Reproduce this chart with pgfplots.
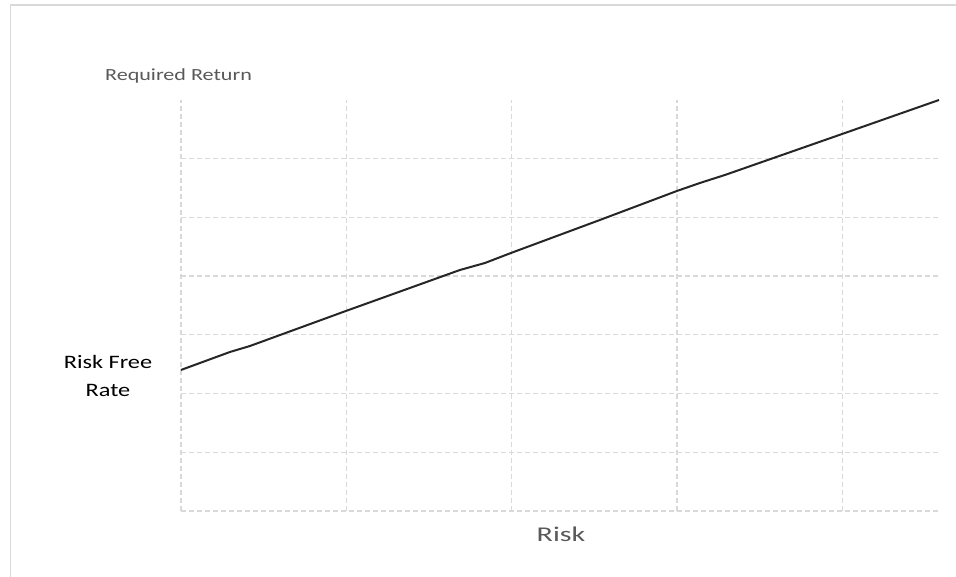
\documentclass[border=0pt]{standalone}
\usepackage{pgfplots}
\pgfplotsset{compat=1.18}
\usepackage{fontspec}
\setmainfont{Carlito}
\definecolor{gridgray}{HTML}{D9D9D9}
\definecolor{txtgray}{HTML}{595959}
\definecolor{linecol}{HTML}{262626}
\begin{document}
\begin{tikzpicture}
\useasboundingbox[fill=white] (0pt,0pt) rectangle (956pt,577pt);
\draw[gridgray, line width=1.5pt] (10.5pt,0pt) -- (10.5pt,572pt) -- (956pt,572pt);
\begin{axis}[
  at={(181pt,66pt)}, anchor=south west,
  scale only axis, width=758pt, height=411pt,
  xmin=0, xmax=4.586, ymin=0, ymax=7,
  xtick={0,1,2,3,4}, ytick={0,1,2,3,4,5,6},
  xticklabels={}, yticklabels={},
  major tick length=0pt,
  axis line style={draw=none},
  tick style={draw=none},
  grid=major,
  major grid style={gridgray, line width=1.3pt, dash pattern=on 5pt off 3pt},
  clip=false,
]
\addplot[linecol, line width=2pt, no marks] coordinates {
(0,2.402) (0.296,2.708) (0.417,2.810) (0.998,3.407) (1.688,4.105)
(1.839,4.224) (1.996,4.394) (2.535,4.957) (3.001,5.451) (3.140,5.587)
(3.291,5.723) (4.0,6.421) (4.586,7.0)
};
\end{axis}
\node[txtgray, font=\fontsize{17}{20}\selectfont] at (178.5pt,501pt) {\scalebox{1.3}[1]{Required Return}};
\node[black, font=\fontsize{19}{28}\selectfont, align=center] at (108pt,201pt) {\scalebox{1.28}[1]{Risk Free}\\[0pt]\scalebox{1.28}[1]{Rate}};
\node[txtgray, font=\fontsize{21}{24}\selectfont] at (561pt,43pt) {\scalebox{1.43}[1]{Risk}};
\end{tikzpicture}
\end{document}
